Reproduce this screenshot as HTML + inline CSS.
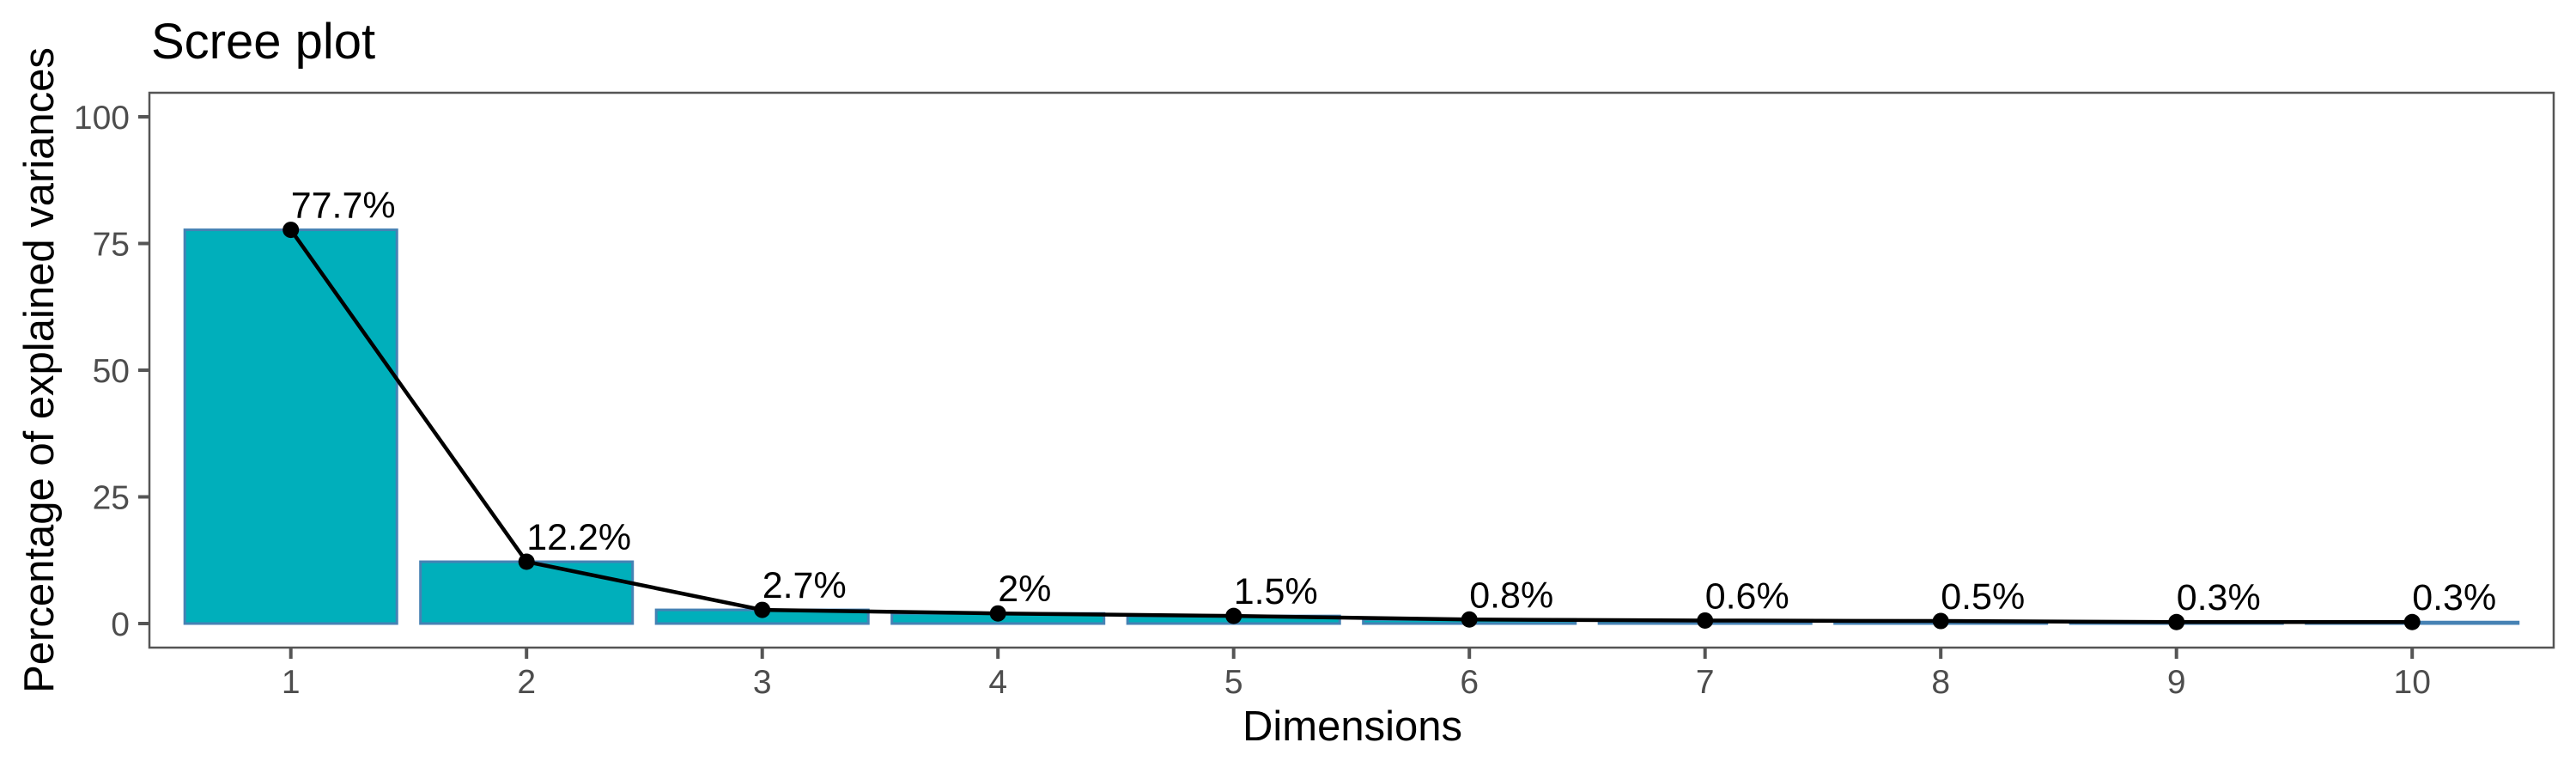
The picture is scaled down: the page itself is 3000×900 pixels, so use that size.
<!DOCTYPE html>
<html><head><meta charset="utf-8"><style>html,body{margin:0;padding:0;background:#fff}svg{display:block}text{font-family:"Liberation Sans",Arial,sans-serif}</style></head>
<body>
<svg id="chart" width="3000" height="900" viewBox="0 0 3000 900" xmlns="http://www.w3.org/2000/svg">
<text x="176" y="68" font-size="58" fill="#000">Scree plot</text>
<rect x="174" y="108" width="2800" height="646" fill="#fff" stroke="#555" stroke-width="2.5"/>
<g id="yaxis"></g>
<g id="xaxis"></g>
<g id="bars"></g>
<g id="line"></g>
<text transform="translate(62,431) rotate(-90)" text-anchor="middle" font-size="49" fill="#000">Percentage of explained variances</text>
<text x="1575" y="862" text-anchor="middle" font-size="49" fill="#000">Dimensions</text>
</svg>
<script>
const categories = [1,2,3,4,5,6,7,8,9,10];
const values = [77.7,12.2,2.7,2.0,1.5,0.8,0.6,0.5,0.3,0.3];
const valueLabels = ["77.7%","12.2%","2.7%","2%","1.5%","0.8%","0.6%","0.5%","0.3%","0.3%"];
const yTicks = [0,25,50,75,100];

const NS="http://www.w3.org/2000/svg";
function x(i){return 174+(i-0.4)*274.5;}
function y(v){return 726-5.9*v;}
function mk(tag,attrs,parent){const e=document.createElementNS(NS,tag);for(const k in attrs)e.setAttribute(k,attrs[k]);parent.appendChild(e);return e;}
const ya=document.getElementById('yaxis'),xa=document.getElementById('xaxis'),bg=document.getElementById('bars'),lg=document.getElementById('line');
yTicks.forEach(t=>{
  const tk=mk('line',{x1:161,x2:174,y1:y(t),y2:y(t),stroke:'#555','stroke-width':4},ya);
  
  
  const tx=mk('text',{x:151,y:y(t)+14,'text-anchor':'end','font-size':39,fill:'#4d4d4d'},ya);
  tx.textContent=t;
  
  
});
categories.forEach((c,i)=>{
  const tk=mk('line',{x1:x(c),x2:x(c),y1:754,y2:767,stroke:'#555','stroke-width':4},xa);
  
  
  const tx=mk('text',{x:x(c),y:807,'text-anchor':'middle','font-size':39,fill:'#4d4d4d'},xa);
  tx.textContent=c;
  
  
  const w=274.5*0.9;
  const r=mk('rect',{x:x(c)-w/2,y:y(values[i]),width:w,height:Math.max(y(0)-y(values[i]),0.5),fill:'#00AFBB',stroke:'#4682B4','stroke-width':3},bg);
  
  
});
const pts=categories.map((c,i)=>x(c)+','+y(values[i])).join(' ');
const pl=mk('polyline',{points:pts,fill:'none',stroke:'#000','stroke-width':4.5},lg);


categories.forEach((c,i)=>{
  const p=mk('circle',{cx:x(c),cy:y(values[i]),r:9.5,fill:'#000'},lg);
  
  
  const t=mk('text',{x:x(c),y:y(values[i])-14,'font-size':43,fill:'#000'},lg);
  t.textContent=valueLabels[i];
  
  
});
</script>
</body></html>
